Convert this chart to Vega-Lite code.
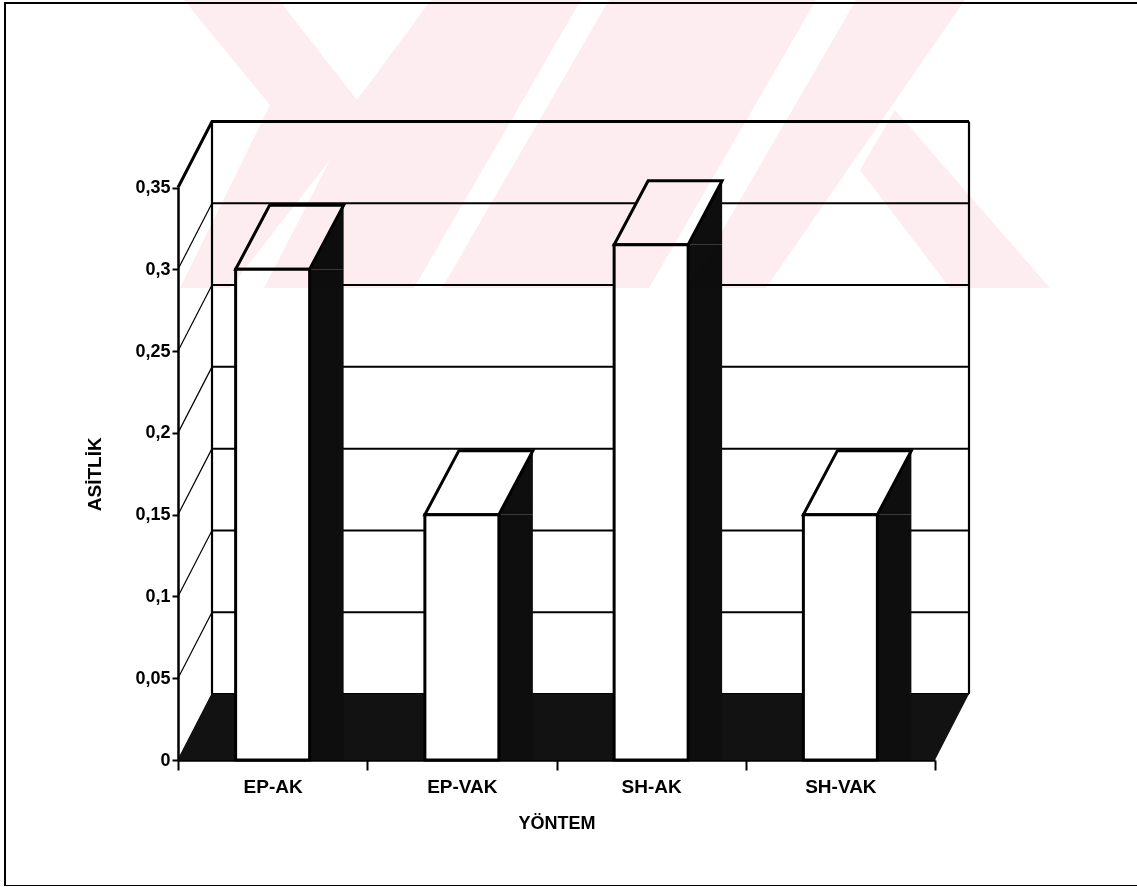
{
  "$schema": "https://vega.github.io/schema/vega-lite/v6.json",
  "width": 1140,
  "height": 883,
  "autosize": {"type": "none"},
  "padding": {"left": 5, "top": 3, "right": 0, "bottom": 0},
  "background": "white",
  "config": {
    "view": {"stroke": "black", "strokeWidth": 2},
    "font": "Liberation Sans"
  },
  "datasets": {
    "bars": [
      {"YONTEM": "EP-AK", "ASITLIK": 0.30},
      {"YONTEM": "EP-VAK", "ASITLIK": 0.15},
      {"YONTEM": "SH-AK", "ASITLIK": 0.315},
      {"YONTEM": "SH-VAK", "ASITLIK": 0.15}
    ],
    "ticks": [
      {"t": 0}, {"t": 0.05}, {"t": 0.1}, {"t": 0.15},
      {"t": 0.2}, {"t": 0.25}, {"t": 0.3}, {"t": 0.35}
    ]
  },
  "layer": [
    {
      "description": "left wall diagonals, one per axis tick",
      "data": {"name": "ticks"},
      "mark": {"type": "point", "shape": "M0,0L34,-66", "size": 4, "filled": false, "stroke": "black", "strokeWidth": 1.2, "opacity": 1},
      "encoding": {
        "x": {"datum": "EP-AK", "bandPosition": 0, "type": "nominal"},
        "y": {"field": "t", "type": "quantitative"}
      }
    },
    {
      "description": "back wall gridlines, one per axis tick",
      "data": {"name": "ticks"},
      "mark": {"type": "point", "shape": "M34,-66L791,-66", "size": 4, "filled": false, "stroke": "black", "strokeWidth": 2, "opacity": 1},
      "encoding": {
        "x": {"datum": "EP-AK", "bandPosition": 0, "type": "nominal"},
        "y": {"field": "t", "type": "quantitative"}
      }
    },
    {
      "description": "back wall left edge",
      "data": {"name": "ticks"},
      "transform": [{"filter": "datum.t == 0"}],
      "mark": {"type": "rule", "stroke": "black", "strokeWidth": 2.2, "xOffset": 34, "yOffset": -66, "y2Offset": -66},
      "encoding": {
        "x": {"datum": "EP-AK", "bandPosition": 0, "type": "nominal"},
        "y": {"field": "t", "type": "quantitative"},
        "y2": {"datum": 0.35}
      }
    },
    {
      "description": "back wall right edge",
      "data": {"name": "ticks"},
      "transform": [{"filter": "datum.t == 0"}],
      "mark": {"type": "rule", "stroke": "black", "strokeWidth": 2.2, "xOffset": 34, "yOffset": -66, "y2Offset": -66},
      "encoding": {
        "x": {"datum": "SH-VAK", "bandPosition": 1, "type": "nominal"},
        "y": {"field": "t", "type": "quantitative"},
        "y2": {"datum": 0.35}
      }
    },
    {
      "description": "top edge of the walls",
      "data": {"name": "ticks"},
      "transform": [{"filter": "datum.t == 0.35"}],
      "mark": {"type": "point", "shape": "M0,0L34,-66L791,-66", "size": 4, "filled": false, "stroke": "black", "strokeWidth": 3, "opacity": 1},
      "encoding": {
        "x": {"datum": "EP-AK", "bandPosition": 0, "type": "nominal"},
        "y": {"field": "t", "type": "quantitative"}
      }
    },
    {
      "description": "floor",
      "data": {"name": "ticks"},
      "transform": [{"filter": "datum.t == 0"}],
      "mark": {"type": "point", "shape": "M0,0L757,0L791,-66L34,-66Z", "size": 4, "filled": true, "fill": "#121212", "opacity": 1, "strokeWidth": 0},
      "encoding": {
        "x": {"datum": "EP-AK", "bandPosition": 0, "type": "nominal"},
        "y": {"field": "t", "type": "quantitative"}
      }
    },
    {
      "description": "side faces of the bars",
      "data": {"name": "bars"},
      "mark": {"type": "bar", "width": 34, "xOffset": 54, "fill": "#0e0e0e"},
      "encoding": {
        "x": {"field": "YONTEM", "type": "nominal", "sort": null},
        "y": {"field": "ASITLIK", "type": "quantitative"},
        "y2": {"datum": 0}
      }
    },
    {
      "description": "upper corner of the side faces",
      "data": {"name": "bars"},
      "mark": {"type": "point", "shape": "M37,0L71,-64L71,0Z", "size": 4, "filled": true, "fill": "#0e0e0e", "opacity": 1, "strokeWidth": 0},
      "encoding": {
        "x": {"field": "YONTEM", "type": "nominal", "sort": null},
        "y": {"field": "ASITLIK", "type": "quantitative"}
      }
    },
    {
      "description": "top faces of the bars",
      "data": {"name": "bars"},
      "mark": {"type": "point", "shape": "M-37,0L37,0L71,-64L-3,-64Z", "size": 4, "filled": true, "fill": "white", "stroke": "black", "strokeWidth": 3, "strokeJoin": "miter", "opacity": 1},
      "encoding": {
        "x": {"field": "YONTEM", "type": "nominal", "sort": null},
        "y": {"field": "ASITLIK", "type": "quantitative"}
      }
    },
    {
      "description": "front faces of the bars, carrying the scales and axes",
      "data": {"name": "bars"},
      "mark": {"type": "bar", "width": 74, "fill": "white", "stroke": "black", "strokeWidth": 3},
      "encoding": {
        "x": {
          "field": "YONTEM", "type": "nominal", "sort": null,
          "scale": {"type": "band", "domain": ["EP-AK", "EP-VAK", "SH-AK", "SH-VAK"], "range": [173, 930], "paddingInner": 0, "paddingOuter": 0},
          "axis": {
            "orient": "bottom", "offset": -126, "tickBand": "extent",
            "domainColor": "black", "domainWidth": 2.5,
            "tickColor": "black", "tickWidth": 2, "tickSize": 10,
            "labelAngle": 0, "labelAlign": "center", "labelFont": "Liberation Sans", "labelFontWeight": "bold", "labelFontSize": 19, "labelColor": "black", "labelPadding": 16,
            "title": "YÖNTEM", "titleFont": "Liberation Sans", "titleFontWeight": "bold", "titleFontSize": 18, "titleColor": "black", "titlePadding": 18,
            "grid": false
          }
        },
        "y": {
          "field": "ASITLIK", "type": "quantitative",
          "scale": {"type": "linear", "domain": [0, 0.35], "range": [757, 184.5], "nice": false, "zero": true},
          "axis": {
            "orient": "left", "offset": -173,
            "values": [0, 0.05, 0.1, 0.15, 0.2, 0.25, 0.3, 0.35],
            "labelExpr": "replace(format(datum.value, '.2~f'), '.', ',')",
            "domainColor": "black", "domainWidth": 2.5,
            "tickColor": "black", "tickWidth": 2, "tickSize": 6,
            "labelFont": "Liberation Sans", "labelFontWeight": "bold", "labelFontSize": 18, "labelColor": "black", "labelPadding": 2,
            "title": "ASİTLİK", "titleFont": "Liberation Sans", "titleFontWeight": "bold", "titleFontSize": 19, "titleColor": "black", "titlePadding": 30,
            "grid": false
          }
        },
        "y2": {"datum": 0}
      }
    },
    {
      "description": "pale watermark printed over the page",
      "data": {"name": "ticks"},
      "transform": [{"filter": "datum.t == 0.35"}],
      "mark": {
        "type": "point",
        "shape": "M6,-187.5L101,-187.5L179,-87.5L253,-187.5L403,-187.5L236,100.5L86,100.5L152,-27.5L52,100.5L2,100.5L92,-82.5ZM431,-187.5L638,-187.5L471,100.5L264,100.5ZM678,-187.5L787,-187.5L588,100.5L511,100.5ZM682,-17.5L717,-77.5L872,100.5L772,100.5Z",
        "size": 4, "filled": true, "fill": "#fdedf0", "opacity": 1, "strokeWidth": 0, "blend": "multiply"
      },
      "encoding": {
        "x": {"datum": "EP-AK", "bandPosition": 0, "type": "nominal"},
        "y": {"field": "t", "type": "quantitative"}
      }
    }
  ]
}
